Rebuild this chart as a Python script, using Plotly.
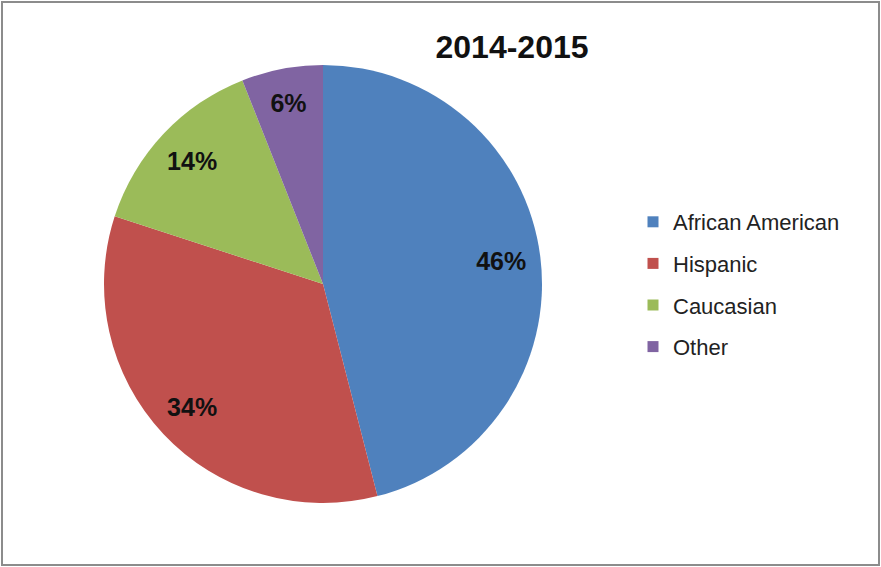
import plotly.graph_objects as go

categories = ["African American", "Hispanic", "Caucasian", "Other"]
values = [46, 34, 14, 6]
colors = ["#4F81BD", "#C0504D", "#9BBB59", "#8064A2"]
title_text = "2014-2015"

W, H = 881, 567
pie_domain = dict(x=[103 / W, 543 / W], y=[1 - 503 / H, 1 - 65 / H])

fig = go.Figure()
# coloured slices
fig.add_trace(go.Pie(
    labels=categories,
    values=values,
    sort=False,
    direction="clockwise",
    rotation=0,
    marker=dict(colors=colors, line=dict(width=0)),
    textinfo="none",
    domain=pie_domain,
    showlegend=False,
    hoverinfo="label+percent",
))
# transparent ring on top that carries the percentage labels further out
fig.add_trace(go.Pie(
    labels=categories,
    values=values,
    sort=False,
    direction="clockwise",
    rotation=0,
    hole=0.64,
    marker=dict(colors=["rgba(0,0,0,0)"] * len(values), line=dict(width=0)),
    texttemplate="<b>%{percent:.0%}</b>",
    textposition="inside",
    insidetextorientation="horizontal",
    textfont=dict(family="Liberation Sans, Arial", size=25, color="#111111"),
    domain=pie_domain,
    showlegend=False,
    hoverinfo="skip",
))

# legend entries (one per category)
for i, (c, col) in enumerate(zip(categories, colors)):
    fig.add_trace(go.Scatter(
        x=[None], y=[None], mode="markers",
        marker=dict(symbol="square", size=11, color=col),
        name=c, legendgroup=f"g{i}", showlegend=True,
    ))

fig.update_layout(
    width=W, height=H,
    margin=dict(l=0, r=0, t=0, b=0),
    paper_bgcolor="white",
    plot_bgcolor="white",
    xaxis=dict(visible=False),
    yaxis=dict(visible=False),
    title=dict(
        text=f"<b>{title_text}</b>",
        x=512 / W, xanchor="center",
        y=1 - 47 / H, yanchor="middle", yref="container",
        font=dict(family="Liberation Sans, Arial", size=32, color="#111111"),
    ),
    legend=dict(
        x=633 / W, xanchor="left",
        y=1 - 201 / H, yanchor="top",
        font=dict(family="Liberation Sans, Arial", size=22, color="#222222"),
        tracegroupgap=10,
        itemclick=False,
        bgcolor="rgba(0,0,0,0)",
    ),
    shapes=[dict(
        type="rect", xref="paper", yref="paper",
        x0=2 / W, x1=879 / W, y0=1 - 565 / H, y1=1 - 2 / H,
        line=dict(color="#8c8c8c", width=2),
    )],
)

fig.write_html(
    "out.html",
    config={"displayModeBar": False},
    post_script="document.body.style.margin='0';document.body.style.padding='0';",
)
